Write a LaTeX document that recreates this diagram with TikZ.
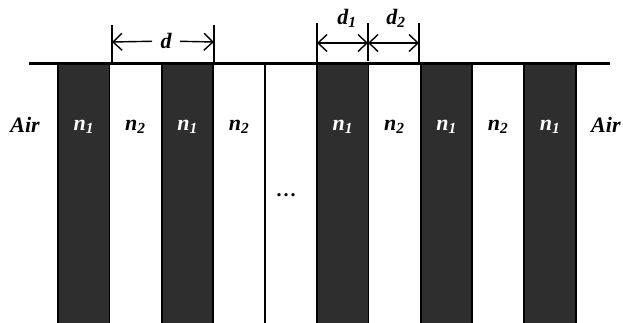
\documentclass[tikz,border=0pt]{standalone}
\usepackage{fontspec}
\setmainfont{Liberation Serif}
\usepackage{xcolor}
\usetikzlibrary{positioning, arrows.meta}
\definecolor{layerdark}{HTML}{2E2E2E}

\begin{document}
\begin{tikzpicture}[
  x=1pt, y=-1pt,
  darkbar/.style={draw=black, line width=2pt, fill=layerdark, minimum width=51.8pt,
                  minimum height=262pt, anchor=north west, inner sep=0pt},
  lightbar/.style={darkbar, fill=white, line width=1.5pt},
  lbl/.style={font=\fontsize{22}{24}\selectfont\bfseries\itshape, inner sep=0pt},
  dimtick/.style={line width=1.4pt},
  dim/.style={-{Straight Barb[length=9pt, width=17pt]}, line width=1.4pt},
  dimboth/.style={{Straight Barb[length=9pt, width=17pt]}-{Straight Barb[length=9pt, width=17pt]},
                  line width=1.4pt}
]
\useasboundingbox (0,0) rectangle (623,322);

% the stack of layers
\foreach \i/\s in {1/darkbar, 2/lightbar, 3/darkbar, 4/lightbar, 5/lightbar,
                   6/darkbar, 7/lightbar, 8/darkbar, 9/lightbar, 10/darkbar}
  \node[\s] (b\i) at ({57+51.8*(\i-1)},63) {};

% surface line
\coordinate (surfL) at (29,63);
\coordinate (surfR) at (610,63);
\draw[line width=3pt] (surfL) -- (surfR);

% labels
\coordinate (row) at (0,127);
\node[lbl, text=white] (l1) at (b1 |- row) {n\textsubscript{1}};
\node[lbl] (l2) at (b2 |- row) {n\textsubscript{2}};
\node[lbl, text=white] (l3) at (b3 |- row) {n\textsubscript{1}};
\node[lbl] (l4) at (b4 |- row) {n\textsubscript{2}};
\node[lbl, text=white] (l6) at (b6 |- row) {n\textsubscript{1}};
\node[lbl] (l7) at (b7 |- row) {n\textsubscript{2}};
\node[lbl, text=white] (l8) at (b8 |- row) {n\textsubscript{1}};
\node[lbl] (l9) at (b9 |- row) {n\textsubscript{2}};
\node[lbl, text=white] (l10) at (b10 |- row) {n\textsubscript{1}};
\node[lbl] (airL) at (25,125) {Air};
\node[lbl, anchor=west] (airR) at (591,125) {Air};
\node[font=\fontsize{20}{22}\selectfont\bfseries, inner sep=0pt] (dots) at (286,195)
  {.\kern2pt.\kern2pt.};

% period d
\coordinate (dLt) at (112,25);
\coordinate (dLb) at (112,63);
\coordinate (dRt) at (214,25);
\coordinate (dRb) at (214,63);
\draw[dimtick] (dLt) -- (dLb);
\draw[dimtick] (dRt) -- (dRb);
\node[lbl] (dlab) at (166,41) {d};
\coordinate (dL) at (112,42);
\coordinate (dR) at (214,42);
\draw[dim, shorten <=14pt] (dlab.center) -- (dL);
\draw[dim, shorten <=14pt] (dlab.center) -- (dR);

% layer thicknesses d1, d2
\coordinate (t1t) at (317,23);
\coordinate (t1b) at (317,63);
\coordinate (t2t) at (368,23);
\coordinate (t2b) at (368,61);
\coordinate (t3t) at (419,23);
\coordinate (t3b) at (419,63);
\foreach \k in {1,2,3} \draw[dimtick] (t\k t) -- (t\k b);
\coordinate (a1) at (317,43);
\coordinate (a2) at (368,43);
\coordinate (a3) at (419,43);
\draw[dimboth] (a1) -- (a2);
\draw[dimboth] (a2) -- (a3);
\node[lbl] (d1lab) at (347,18) {d\textsubscript{1}};
\node[lbl] (d2lab) at (396,18) {d\textsubscript{2}};
\end{tikzpicture}
\end{document}
